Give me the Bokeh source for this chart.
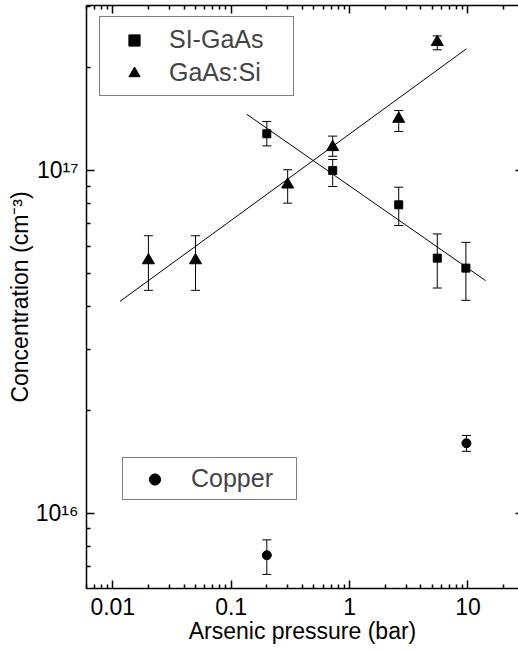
from bokeh.plotting import figure
from bokeh.models import (ColumnDataSource, Whisker, TeeHead, Legend, LegendItem,
                          LogAxis, FixedTicker, CustomJSTickFormatter, Range1d)
from bokeh.embed import file_html
from bokeh.resources import INLINE

# ---- data ----
si_x = [0.2, 0.72, 2.6, 5.5, 9.6]
si_y = [1.28e17, 1.0e17, 7.94e16, 5.55e16, 5.19e16]
si_lo = [1.18e17, 8.98e16, 6.91e16, 4.54e16, 4.18e16]
si_hi = [1.39e17, 1.077e17, 8.94e16, 6.53e16, 6.17e16]

gs_x = [0.02, 0.05, 0.3, 0.72, 2.6, 5.5]
gs_y = [5.47e16, 5.47e16, 9.1e16, 1.17e17, 1.415e17, 2.37e17]
gs_lo = [4.47e16, 4.47e16, 8.03e16, 1.10e17, 1.30e17, 2.25e17]
gs_hi = [6.45e16, 6.45e16, 1.005e17, 1.26e17, 1.496e17, 2.47e17]

cu_x = [0.2, 9.7]
cu_y = [7.54e15, 1.6e16]
cu_lo = [6.63e15, 1.516e16]
cu_hi = [8.36e15, 1.686e16]

si_fit_x = [0.135, 14.1]
si_fit_y = [1.46e17, 4.77e16]
gs_fit_x = [0.0115, 9.7]
gs_fit_y = [4.15e16, 2.265e17]

x_major = [0.01, 0.1, 1, 10]
x_minor = [0.006, 0.007, 0.008, 0.009,
           0.02, 0.03, 0.04, 0.05, 0.06, 0.07, 0.08, 0.09,
           0.2, 0.3, 0.4, 0.5, 0.6, 0.7, 0.8, 0.9,
           2, 3, 4, 5, 6, 7, 8, 9, 20]
y_major = [1e16, 1e17]
y_minor = [6e15, 7e15, 8e15, 9e15,
           2e16, 3e16, 4e16, 5e16, 6e16, 7e16, 8e16, 9e16,
           2e17, 3e17]

FONT = "Liberation Sans"

p = figure(width=518, height=651, x_axis_type="log", y_axis_type="log",
           x_range=Range1d(0.006, 26.7), y_range=Range1d(6.03e15, 3.03e17),
           output_backend="svg", toolbar_location=None,
           min_border_left=86, min_border_right=0, min_border_top=5, min_border_bottom=63)
p.outline_line_color = None
p.grid.visible = False
p.background_fill_color = "white"

xt = FixedTicker(ticks=x_major, minor_ticks=x_minor)
yt = FixedTicker(ticks=y_major, minor_ticks=y_minor)

xfmt = CustomJSTickFormatter(code="return tick.toString();")
yfmt = CustomJSTickFormatter(code="""
const sup = {"0":"\u2070","1":"\u00b9","2":"\u00b2","3":"\u00b3","4":"\u2074","5":"\u2075","6":"\u2076","7":"\u2077","8":"\u2078","9":"\u2079","-":"\u207b"};
const e = Math.round(Math.log10(tick));
return "10" + String(e).split("").map(c => sup[c]).join("");
""")


def style_axis(ax, ticker, show_labels=True):
    ax.ticker = ticker
    ax.axis_line_width = 1.5
    ax.axis_line_color = "black"
    ax.major_tick_line_width = 1.5
    ax.minor_tick_line_width = 1.5
    ax.major_tick_line_color = "black"
    ax.minor_tick_line_color = "black"
    ax.major_tick_in = 8
    ax.major_tick_out = 0
    ax.minor_tick_in = 4
    ax.minor_tick_out = 0
    ax.major_label_text_font = FONT
    ax.axis_label_text_font = FONT
    ax.axis_label_text_font_style = "normal"
    ax.axis_label_text_color = "black"
    ax.major_label_text_color = "black"
    if not show_labels:
        ax.major_label_text_font_size = "1px"
        ax.major_label_text_color = None
        ax.major_label_standoff = 0


xa = p.xaxis[0]
style_axis(xa, xt)
xa.formatter = xfmt
xa.major_label_text_font_size = "23px"
xa.major_label_standoff = 9
xa.axis_label = "Arsenic pressure (bar)"
xa.axis_label_text_font_size = "23px"
xa.axis_label_standoff = 0

ya = p.yaxis[0]
style_axis(ya, yt)
ya.formatter = yfmt
ya.major_label_text_font_size = "23px"
ya.major_label_standoff = 8
ya.axis_label = "Concentration (cm\u207b\u00b3)"
ya.axis_label_text_font_size = "23px"
ya.axis_label_standoff = 0

top = LogAxis()
style_axis(top, FixedTicker(ticks=x_major, minor_ticks=x_minor), show_labels=False)
top.formatter = xfmt
p.add_layout(top, "above")

right = LogAxis()
style_axis(right, FixedTicker(ticks=y_major, minor_ticks=y_minor), show_labels=False)
right.formatter = yfmt
right.axis_line_alpha = 0
right.major_tick_in = 3
right.minor_tick_in = 0
p.add_layout(right, "right")

# ---- fit lines ----
p.line(si_fit_x, si_fit_y, line_color="black", line_width=1)
p.line(gs_fit_x, gs_fit_y, line_color="black", line_width=1)

# ---- error bars ----
for xs, lo, hi in [(si_x, si_lo, si_hi), (gs_x, gs_lo, gs_hi), (cu_x, cu_lo, cu_hi)]:
    src = ColumnDataSource(dict(x=xs, lo=lo, hi=hi))
    w = Whisker(source=src, base="x", lower="lo", upper="hi", dimension="height",
                line_color="black", line_width=1,
                upper_head=TeeHead(size=9, line_color="black", line_width=1),
                lower_head=TeeHead(size=9, line_color="black", line_width=1))
    p.add_layout(w)

# ---- markers ----
r_sq = p.scatter(si_x, si_y, marker="square", size=8, fill_color="black", line_color="black")
r_tr = p.scatter(gs_x, gs_y, marker="triangle", size=12, fill_color="black", line_color="black")
r_cu = p.scatter(cu_x, cu_y, marker="circle", size=9, fill_color="black", line_color="black")

leg1 = Legend(items=[LegendItem(label="SI-GaAs", renderers=[r_sq]),
                     LegendItem(label="GaAs:Si", renderers=[r_tr])],
              location=(13, 492), margin=0, padding=8, spacing=4,
              glyph_width=52, glyph_height=28, label_standoff=9, label_width=116,
              label_text_font=FONT, label_text_font_size="25px",
              border_line_color="black", border_line_width=1,
              background_fill_color="white", background_fill_alpha=1)
leg2 = Legend(items=[LegendItem(label="Copper", renderers=[r_cu])],
              location=(36, 88), margin=0, padding=6, spacing=0,
              glyph_width=51, glyph_height=28, label_standoff=11, label_width=99,
              label_text_font=FONT, label_text_font_size="25px",
              border_line_color="black", border_line_width=1,
              background_fill_color="white", background_fill_alpha=1)
p.add_layout(leg1)
p.add_layout(leg2)

with open("out.html", "w", encoding="utf-8") as f:
    f.write(file_html(p, INLINE))
